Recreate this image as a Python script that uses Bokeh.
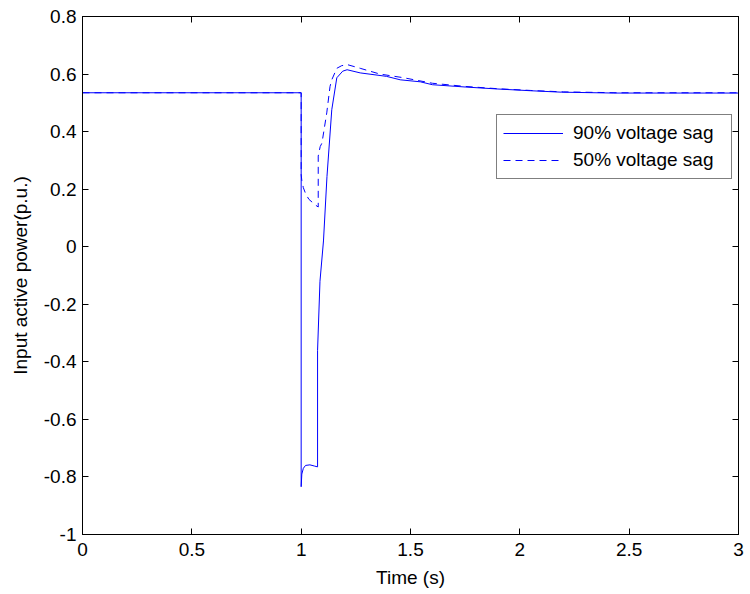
from bokeh.plotting import figure
from bokeh.models import (LinearAxis, FixedTicker, Range1d, Legend, LegendItem)
from bokeh.embed import file_html
from bokeh.resources import INLINE

# ---- data ----
t_90 = [0.0, 1.0, 1.0, 1.003, 1.01, 1.02, 1.04, 1.06, 1.075, 1.075, 1.086, 1.102,
        1.118, 1.14, 1.163, 1.19, 1.21, 1.27, 1.39, 1.453, 1.545, 1.60, 1.75, 1.90,
        2.05, 2.19, 2.43, 3.0]
p_90 = [0.535, 0.535, -0.834, -0.79, -0.77, -0.76, -0.758, -0.762, -0.765, -0.36, -0.12, 0.02,
        0.244, 0.476, 0.587, 0.61, 0.615, 0.604, 0.592, 0.58, 0.573, 0.563, 0.555, 0.548,
        0.542, 0.537, 0.534, 0.534]

t_50 = [0.0, 1.0, 1.0, 1.003, 1.01, 1.02, 1.035, 1.05, 1.065, 1.078, 1.078, 1.087, 1.095,
        1.117, 1.132, 1.14, 1.163, 1.185, 1.21, 1.27, 1.36, 1.47, 1.6, 1.75, 1.9, 2.05,
        2.2, 2.45, 3.0]
p_50 = [0.535, 0.535, 0.25, 0.23, 0.205, 0.185, 0.165, 0.155, 0.145, 0.138, 0.315, 0.348, 0.36,
        0.465, 0.557, 0.58, 0.62, 0.629, 0.633, 0.62, 0.60, 0.587, 0.568, 0.557, 0.549, 0.543,
        0.538, 0.535, 0.535]

x_ticks = [0, 0.5, 1, 1.5, 2, 2.5, 3]
x_tick_labels = ["0", "0.5", "1", "1.5", "2", "2.5", "3"]
y_ticks = [-1, -0.8, -0.6, -0.4, -0.2, 0, 0.2, 0.4, 0.6, 0.8]
y_tick_labels = ["-1", "-0.8", "-0.6", "-0.4", "-0.2", "0", "0.2", "0.4", "0.6", "0.8"]

series_names = ["90% voltage sag", "50% voltage sag"]
x_label = "Time (s)"
y_label = "Input active power(p.u.)"

FONT = "Liberation Sans"
FS = "19px"

p = figure(width=750, height=594, output_backend="svg", toolbar_location=None,
           x_range=Range1d(0, 3), y_range=Range1d(-1, 0.8),
           min_border_left=82, min_border_right=12, min_border_top=16, min_border_bottom=60,
           x_axis_label=x_label, y_axis_label=y_label)
p.background_fill_color = "white"
p.border_fill_color = "white"
p.outline_line_color = "black"
p.outline_line_width = 1
p.grid.visible = False

r90 = p.line(t_90, p_90, line_color="#0000ff", line_width=1)
r50 = p.line(t_50, p_50, line_color="#0000ff", line_width=1, line_dash="7 5")

def style_axis(ax, ticks, labels, show_labels=True):
    ax.ticker = FixedTicker(ticks=ticks)
    ax.major_label_overrides = {tk: lb for tk, lb in zip(ticks, labels)}
    ax.major_tick_in = 6
    ax.major_tick_out = 0
    ax.minor_tick_line_color = None
    ax.axis_line_color = "black"
    ax.major_tick_line_color = "black"
    ax.major_label_text_font = FONT
    ax.major_label_text_color = "black"
    if show_labels:
        ax.major_label_text_font_size = FS
    else:
        ax.major_label_text_font_size = "0px"
        ax.major_label_standoff = 0

xa = p.xaxis[0]
ya = p.yaxis[0]
style_axis(xa, x_ticks, x_tick_labels)
style_axis(ya, y_ticks, y_tick_labels)
xa.major_label_standoff = 8
ya.major_label_standoff = 6
for ax in (xa, ya):
    ax.axis_label_text_font = FONT
    ax.axis_label_text_font_size = FS
    ax.axis_label_text_font_style = "normal"
    ax.axis_label_text_color = "black"
xa.axis_label_standoff = 8
ya.axis_label_standoff = 10

top = LinearAxis()
style_axis(top, x_ticks, [""] * len(x_ticks), show_labels=False)
p.add_layout(top, "above")
right = LinearAxis()
style_axis(right, y_ticks, [""] * len(y_ticks), show_labels=False)
p.add_layout(right, "right")

legend = Legend(items=[LegendItem(label=series_names[0], renderers=[r90]),
                       LegendItem(label=series_names[1], renderers=[r50])],
                location=(414, 355))
legend.border_line_color = "black"
legend.border_line_width = 1
legend.background_fill_color = "white"
legend.background_fill_alpha = 1
legend.label_text_font = FONT
legend.label_text_font_size = FS
legend.label_text_color = "black"
legend.padding = 6
legend.spacing = 3
legend.label_height = 24
legend.glyph_height = 24
legend.glyph_width = 60
legend.label_standoff = 10
legend.label_width = 152
legend.margin = 0
p.add_layout(legend, "center")

open("out.html", "w").write(file_html(p, INLINE))
